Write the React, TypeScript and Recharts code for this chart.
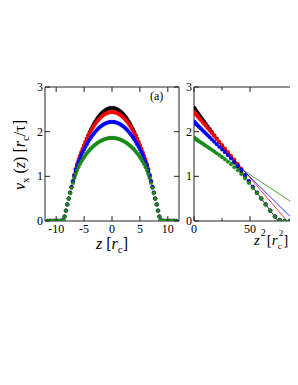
import React from "react";
import { LineChart, ComposedChart, Line, XAxis, YAxis, ReferenceLine } from "recharts";

// half profile z >= 0, the (a) panel is mirrored from it
const zHalf = [
  0, 0.25, 0.5, 0.75, 1, 1.25, 1.5, 1.75, 2, 2.25, 2.5, 2.75, 3, 3.25, 3.5, 3.75, 4, 4.25, 4.5, 4.75,
  5, 5.25, 5.5, 5.75, 6, 6.25, 6.5, 6.75, 7, 7.25, 7.5, 7.75, 8, 8.25, 8.5, 8.75, 9,
  9.25, 9.5, 9.75, 10, 10.25, 10.5, 10.75, 11, 11.25, 11.5,
];
const vBlack = [
  2.53, 2.528, 2.522, 2.511, 2.496, 2.477, 2.454, 2.427, 2.395, 2.359,
  2.319, 2.275, 2.227, 2.174, 2.117, 2.056, 1.991, 1.921, 1.848, 1.77,
  1.688, 1.601, 1.51, 1.416, 1.317, 1.213, 1.105, 0.993, 0.877, 0.756,
  0.631, 0.502, 0.368, 0.23, 0.1, 0.02, 0,
  0, 0, 0, 0, 0, 0, 0, 0, 0, 0,
];
const vRed = [
  2.44, 2.438, 2.433, 2.423, 2.41, 2.394, 2.373, 2.349, 2.322, 2.29,
  2.255, 2.216, 2.174, 2.127, 2.077, 2.024, 1.966, 1.905, 1.841, 1.772,
  1.7, 1.624, 1.545, 1.461, 1.374, 1.28, 1.17, 1.03, 0.89, 0.76,
  0.632, 0.503, 0.37, 0.232, 0.1, 0.02, 0,
  0, 0, 0, 0, 0, 0, 0, 0, 0, 0,
];
const vBlue = [
  2.22, 2.218, 2.214, 2.206, 2.195, 2.181, 2.164, 2.144, 2.121, 2.095,
  2.066, 2.033, 1.998, 1.959, 1.917, 1.873, 1.825, 1.774, 1.72, 1.663,
  1.603, 1.539, 1.473, 1.403, 1.331, 1.245, 1.15, 1.03, 0.895, 0.765,
  0.635, 0.505, 0.372, 0.233, 0.1, 0.02, 0,
  0, 0, 0, 0, 0, 0, 0, 0, 0, 0,
];
const vGreen = [
  1.86, 1.859, 1.856, 1.851, 1.843, 1.834, 1.822, 1.809, 1.793, 1.775,
  1.756, 1.734, 1.71, 1.684, 1.655, 1.625, 1.593, 1.556, 1.517, 1.476,
  1.43, 1.38, 1.327, 1.27, 1.205, 1.135, 1.05, 0.955, 0.85, 0.74,
  0.625, 0.5, 0.37, 0.232, 0.1, 0.02, 0,
  0, 0, 0, 0, 0, 0, 0, 0, 0, 0,
];

// linear fits in z^2: intercept and the z^2 where the fit reaches 0
const fitIntercept = [2.53, 2.44, 2.22, 1.86];
const fitZero = [75, 83, 90, 113];

const colors = ["#000000", "#ff0000", "#0000ff", "#1a8a1a"];
const seriesKeys = ["black", "red", "blue", "green"];
const seriesVals = [vBlack, vRed, vBlue, vGreen];

const xTicksA = [-10, -7.5, -5, -2.5, 0, 2.5, 5, 7.5, 10];
const xMajorA = [-10, -5, 0, 5, 10];
const xTicksB = [0, 25, 50, 75, 100];
const xMajorB = [0, 50];
const yTicks = [0, 0.5, 1, 1.5, 2, 2.5, 3];
const yMajor = [0, 1, 2, 3];

const dataA = [
  ...zHalf.slice(1).reverse().map((z, i) => {
    const k = zHalf.length - 1 - i;
    const row: any = { z: -z };
    seriesKeys.forEach((s, j) => (row[s] = seriesVals[j][k]));
    return row;
  }),
  ...zHalf.map((z, k) => {
    const row: any = { z };
    seriesKeys.forEach((s, j) => (row[s] = seriesVals[j][k]));
    return row;
  }),
];

const dataB = seriesVals.map((vals) => zHalf.map((z, k) => ({ x: z * z, y: vals[k] })));
const fitB = fitIntercept.map((v0, i) => [
  { x: 0, y: v0 },
  { x: fitZero[i], y: 0 },
]);

const font = "'Liberation Serif', 'DejaVu Serif', serif";
const frame = "#222";

const PA = { top: 79, bottom: 213, left: 37, right: 171 };
const PB = { top: 79, bottom: 213, left: 26, right: 138 };

function xTick(p: typeof PA, majors: number[]) {
  return (props: any) => {
    const { x, payload } = props;
    const major = majors.includes(payload.value);
    const len = major ? 5 : 3;
    return (
      <g>
        <line x1={x} x2={x} y1={p.bottom} y2={p.bottom - len} stroke={frame} />
        <line x1={x} x2={x} y1={p.top} y2={p.top + len} stroke={frame} />
        {major && (
          <text x={x} y={p.bottom + 12} textAnchor="middle" fontSize={12} fontFamily={font} fill="#000">
            {payload.value}
          </text>
        )}
      </g>
    );
  };
}

function yTick(p: typeof PA, showRight: boolean) {
  return (props: any) => {
    const { y, payload } = props;
    const major = yMajor.includes(payload.value);
    const len = major ? 5 : 3;
    return (
      <g>
        <line x1={p.left} x2={p.left + len} y1={y} y2={y} stroke={frame} />
        {showRight && <line x1={p.right} x2={p.right - len} y1={y} y2={y} stroke={frame} />}
        {major && (
          <text x={p.left - 2} y={y + 4} textAnchor="end" fontSize={12} fontFamily={font} fill="#000">
            {payload.value}
          </text>
        )}
      </g>
    );
  };
}

export default function App() {
  return (
    <div style={{ position: "relative", width: 290, height: 377, overflow: "hidden" }}>
      <div style={{ position: "absolute", left: 0, top: 0 }}>
        <LineChart width={176} height={240} data={dataA} margin={{ top: 79, right: 5, left: 17, bottom: 7 }}>
          <XAxis
            dataKey="z"
            type="number"
            domain={[-12, 12]}
            ticks={xTicksA}
            tickLine={false}
            axisLine={{ stroke: frame }}
            tick={xTick(PA, xMajorA)}
            height={20}
            allowDataOverflow
          />
          <YAxis
            type="number"
            domain={[0, 3]}
            ticks={yTicks}
            tickLine={false}
            axisLine={{ stroke: frame }}
            tick={yTick(PA, true)}
            width={20}
            allowDataOverflow
          />
          <ReferenceLine y={3} stroke={frame} />
          <ReferenceLine x={12} stroke={frame} />
          {seriesKeys.map((s, i) => (
            <Line
              key={s}
              dataKey={s}
              stroke="none"
              isAnimationActive={false}
              dot={{ r: 1.8, fill: colors[i], stroke: colors[i], strokeWidth: 0.4 }}
            />
          ))}
        </LineChart>
      </div>
      <div style={{ position: "absolute", left: 160, top: 0 }}>
        <ComposedChart width={143} height={240} margin={{ top: 79, right: 5, left: 6, bottom: 7 }}>
          <XAxis
            dataKey="x"
            type="number"
            domain={[0, 100]}
            ticks={xTicksB}
            tickLine={false}
            axisLine={{ stroke: frame }}
            tick={xTick(PB, xMajorB)}
            height={20}
            allowDataOverflow
          />
          <YAxis
            type="number"
            domain={[0, 3]}
            ticks={yTicks}
            tickLine={false}
            axisLine={{ stroke: frame }}
            tick={yTick(PB, false)}
            width={20}
            allowDataOverflow
          />
          <ReferenceLine y={3} stroke={frame} />
          {seriesKeys.map((s, i) => (
            <Line
              key={"d" + s}
              data={dataB[i]}
              dataKey="y"
              stroke="none"
              isAnimationActive={false}
              dot={{ r: 1.8, fill: colors[i], stroke: colors[i], strokeWidth: 0.4 }}
            />
          ))}
          {seriesKeys.map((s, i) => (
            <Line
              key={"f" + s}
              data={fitB[i]}
              dataKey="y"
              stroke={colors[i]}
              strokeWidth={0.8}
              dot={false}
              isAnimationActive={false}
            />
          ))}
        </ComposedChart>
      </div>
      <svg width={290} height={377} style={{ position: "absolute", left: 0, top: 0, pointerEvents: "none" }}>
        <g fontFamily={font} fill="#000">
          <text x={142} y={92} fontSize={12}>(a)</text>
          <text x={285} y={92} fontSize={12}>(b)</text>
          <text transform="rotate(-90, 17, 147)" x={17} y={147} textAnchor="middle" fontSize={16}>
            <tspan fontStyle="italic">v</tspan>
            <tspan fontSize={11} dy={4}>x</tspan>
            <tspan dy={-4}> (</tspan>
            <tspan fontStyle="italic">z</tspan>
            <tspan>) [</tspan>
            <tspan fontStyle="italic">r</tspan>
            <tspan fontSize={11} dy={4}>c</tspan>
            <tspan dy={-4}>/τ]</tspan>
          </text>
          <text x={88} y={241} fontSize={16}>
            <tspan fontStyle="italic">z</tspan>
            <tspan> [</tspan>
            <tspan fontStyle="italic">r</tspan>
            <tspan fontSize={11} dy={4}>c</tspan>
            <tspan dy={-4}>]</tspan>
          </text>
          <text x={246} y={237} fontSize={15}>
            <tspan fontStyle="italic">z</tspan>
            <tspan fontSize={10} dx={1} dy={-9}>2</tspan>
            <tspan dx={1} dy={9}>[</tspan>
            <tspan fontStyle="italic">r</tspan>
            <tspan fontSize={9} dy={4}>c</tspan>
            <tspan fontSize={9} dx={-3} dy={-13}>2</tspan>
            <tspan dy={9}>]</tspan>
          </text>
        </g>
      </svg>
    </div>
  );
}
